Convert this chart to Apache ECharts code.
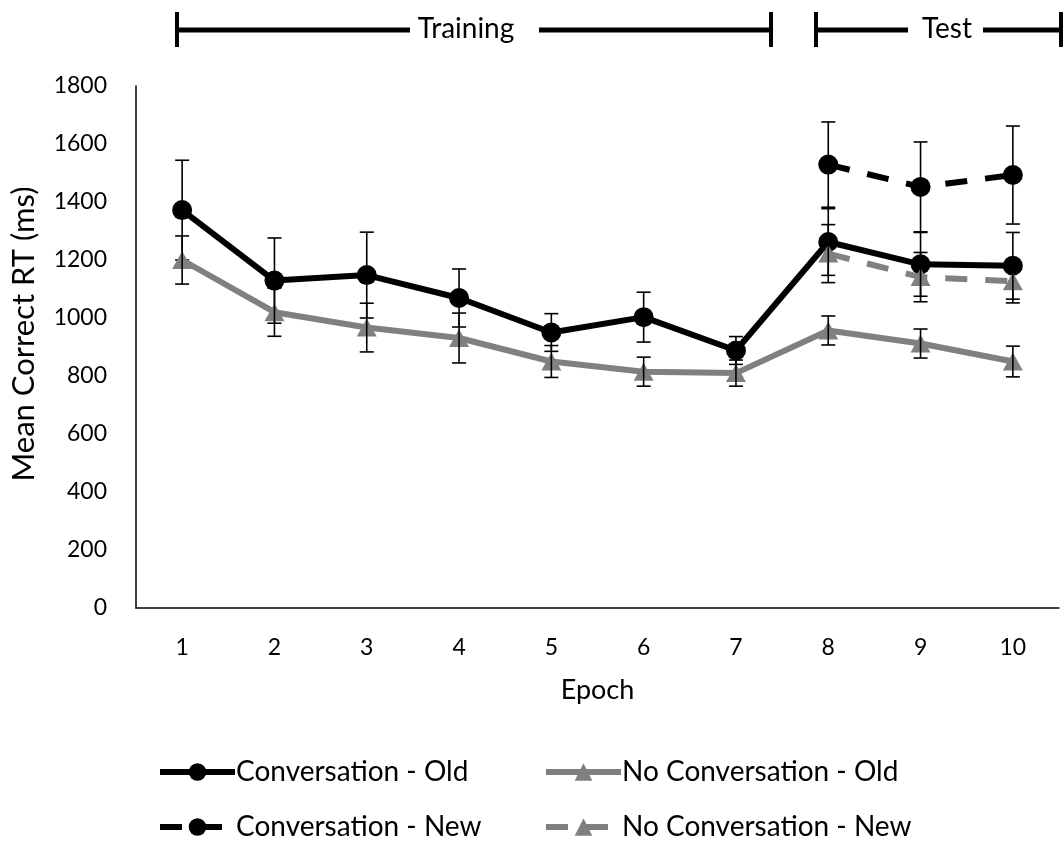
<!DOCTYPE html>
<html><head><meta charset="utf-8">
<script src="https://cdn.jsdelivr.net/npm/echarts@6/dist/echarts.min.js"></script>
<style>html,body{margin:0;padding:0;background:#fff}#c{width:1063px;height:843px}</style>
</head><body><div id="c"></div>
<script>
const epochs = ['1','2','3','4','5','6','7','8','9','10'];
const yTicks = [0,200,400,600,800,1000,1200,1400,1600,1800];
const convOld      = [1372, 1129, 1148, 1069, 950, 1003, 888, 1262, 1185, 1180];
const convOldErr   = [172, 147, 148, 100, 65, 86, 48, 115, 110, 115];
const noConvOld    = [1200, 1020, 967, 931, 850, 815, 810, 957, 912, 850];
const noConvOldErr = [83, 83, 84, 86, 55, 50, 45, 50, 50, 53];
const convNew      = [null, null, null, null, null, null, null, 1529, 1452, 1493];
const convNewErr   = [null, null, null, null, null, null, null, 147, 155, 169];
const noConvNew    = [null, null, null, null, null, null, null, 1222, 1141, 1127];
const noConvNewErr = [null, null, null, null, null, null, null, 100, 85, 75];
const names = ['Conversation - Old','No Conversation - Old','Conversation - New','No Conversation - New'];

const FONT = 'Lato';
const chart = echarts.init(document.getElementById('c'));

function errSeries(vals, errs, z){
  const data = [];
  vals.forEach((v,i)=>{ if(v!=null) data.push([i, v, errs[i]]); });
  return {
    type:'custom', silent:true, z:z, data:data, encode:{x:0,y:1},
    renderItem:function(params, api){
      const x = api.value(0), v = api.value(1), e = api.value(2);
      const t = api.coord([x, v+e]), b = api.coord([x, v-e]);
      const hw = 7, st = {stroke:'#000', lineWidth:1.6};
      return {type:'group', children:[
        {type:'line', shape:{x1:t[0],y1:t[1],x2:b[0],y2:b[1]}, style:st},
        {type:'line', shape:{x1:t[0]-hw,y1:t[1],x2:t[0]+hw,y2:t[1]}, style:st},
        {type:'line', shape:{x1:b[0]-hw,y1:b[1],x2:b[0]+hw,y2:b[1]}, style:st}
      ]};
    }
  };
}
function lineSeries(name, vals, color, symbol, size, dashed, z){
  return {
    name:name, type:'line', data:vals, z:z, symbol:symbol, symbolSize:size,
    showSymbol:true, connectNulls:false,
    lineStyle:{color:color, width:6, type: dashed ? [22,18] : 'solid'},
    itemStyle:{color:color, borderWidth:0},
    emphasis:{disabled:true}
  };
}
const legendBase = {
  itemWidth:75, itemHeight:22, itemGap:0, orient:'horizontal',
  lineStyle:{width:6},
  textStyle:{fontFamily:FONT, fontSize:28, color:'#000', padding:[0,0,0,-4]}
};
const option = {
  animation:false,
  backgroundColor:'#fff',
  grid:{left:136, right:4, top:86, bottom:235, containLabel:false},
  xAxis:{
    type:'category', data:epochs, boundaryGap:true,
    name:'Epoch', nameLocation:'middle', nameGap:69,
    nameTextStyle:{fontFamily:FONT, fontSize:27, color:'#000'},
    axisLine:{lineStyle:{color:'#000', width:1.5}},
    axisTick:{show:false},
    axisLabel:{fontFamily:FONT, fontSize:23, color:'#000', margin:28}
  },
  yAxis:{
    type:'value', min:0, max:1800, interval:200,
    name:'Mean Correct RT (ms)', nameLocation:'middle', nameGap:97, nameRotate:90,
    nameTextStyle:{fontFamily:FONT, fontSize:31, color:'#000', padding:[0,0,0,26]},
    axisLine:{show:true, lineStyle:{color:'#000', width:1.5}},
    axisTick:{show:false}, splitLine:{show:false},
    axisLabel:{fontFamily:FONT, fontSize:23, color:'#000', margin:29,
      formatter:function(v){ return yTicks.indexOf(v)>=0 ? String(v) : ''; }}
  },
  legend:[
    Object.assign({}, legendBase, {data:[names[0]], left:152, top:753}),
    Object.assign({}, legendBase, {data:[names[1]], left:538, top:753}),
    Object.assign({}, legendBase, {data:[names[2]], left:152, top:808}),
    Object.assign({}, legendBase, {data:[names[3]], left:538, top:808})
  ],
  series:[
    lineSeries(names[0], convOld, '#000000', 'circle', 20, false, 2),
    errSeries(convOld, convOldErr, 3),
    lineSeries(names[1], noConvOld, '#808080', 'triangle', [20,18], false, 4),
    errSeries(noConvOld, noConvOldErr, 5),
    lineSeries(names[2], convNew, '#000000', 'circle', 20, true, 6),
    errSeries(convNew, convNewErr, 7),
    lineSeries(names[3], noConvNew, '#808080', 'triangle', [20,18], true, 8),
    errSeries(noConvNew, noConvNewErr, 9)
  ],
  graphic:[
    {type:'line', shape:{x1:177,y1:30,x2:410,y2:30}, style:{stroke:'#000', lineWidth:5}},
    {type:'line', shape:{x1:539,y1:30,x2:771,y2:30}, style:{stroke:'#000', lineWidth:5}},
    {type:'line', shape:{x1:177,y1:12,x2:177,y2:47}, style:{stroke:'#000', lineWidth:4}},
    {type:'line', shape:{x1:771,y1:12,x2:771,y2:47}, style:{stroke:'#000', lineWidth:4}},
    {type:'text', x:466, y:29, style:{text:'Training', font:'28px Lato', fill:'#000', textAlign:'center', textVerticalAlign:'middle'}},
    {type:'line', shape:{x1:816,y1:30,x2:908,y2:30}, style:{stroke:'#000', lineWidth:5}},
    {type:'line', shape:{x1:983,y1:30,x2:1063,y2:30}, style:{stroke:'#000', lineWidth:5}},
    {type:'line', shape:{x1:816,y1:12,x2:816,y2:47}, style:{stroke:'#000', lineWidth:4}},
    {type:'line', shape:{x1:1061,y1:12,x2:1061,y2:47}, style:{stroke:'#000', lineWidth:4}},
    {type:'text', x:947, y:29, style:{text:'Test', font:'28px Lato', fill:'#000', textAlign:'center', textVerticalAlign:'middle'}}
  ]
};
chart.setOption(option);
</script>
</body></html>
